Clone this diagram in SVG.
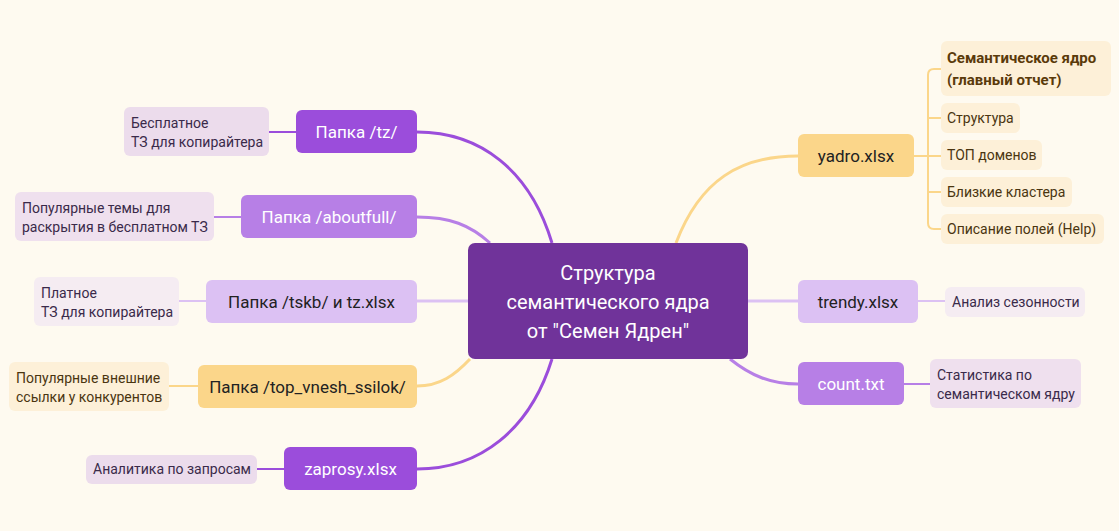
<svg xmlns="http://www.w3.org/2000/svg" width="1119" height="531" viewBox="0 0 1119 531">
<style>
text{font-family:Roboto,"Liberation Sans",sans-serif}
.b{font-size:17px}
.l{font-size:14px;fill:#3a2a4a}
.w{fill:#fff}
.k{fill:#222}
.c{fill:none;stroke-width:3}
.t{fill:none;stroke-width:2}
</style>
<rect width="1119" height="531" fill="#fefaf0"/>
<g id="connectors">
<path class="c" stroke="#9b4ddb" d="M552,243 C530,170 480,132 417,132"/>
<path class="c" stroke="#b77fe6" d="M490,243 C470,225 450,217 417,217"/>
<path class="c" stroke="#dcc1f3" d="M468,301 L417,301"/>
<path class="c" stroke="#fbd68a" d="M470,359 C455,375 440,386 417,386"/>
<path class="c" stroke="#9b4ddb" d="M552,359 C530,430 480,469 417,469"/>
<path class="c" stroke="#fbd68a" d="M676,243 C700,180 740,156 798,156"/>
<path class="c" stroke="#dcc1f3" d="M748,301 L798,301"/>
<path class="c" stroke="#b77fe6" d="M730,359 C750,375 770,384 798,384"/>
<path class="t" stroke="#9b4ddb" d="M296,132 H269"/>
<path class="t" stroke="#b77fe6" d="M241,217 H214"/>
<path class="t" stroke="#dcc1f3" d="M206,301 H179"/>
<path class="t" stroke="#fbd68a" d="M198,386 H169"/>
<path class="t" stroke="#9b4ddb" d="M284,469 H257"/>
<path class="t" stroke="#dcc1f3" d="M918,301 H945"/>
<path class="t" stroke="#b77fe6" d="M904,384 H930"/>
<path class="t" stroke="#fbd68a" d="M914,156 H941 M941,69 H934 Q928,69 928,75 V223 Q928,229 934,229 H941 M928,118 H941 M928,192 H941"/>
</g>
<g id="center"><rect x="468" y="243" width="280" height="116" rx="7" fill="#70339a"/>
<text class="w" font-size="20" text-anchor="middle"><tspan x="608" y="280">Структура</tspan><tspan x="608" y="309">семантического ядра</tspan><tspan x="608" y="338">от "Семен Ядрен"</tspan></text></g>
<g id="tz"><rect x="296" y="110" width="121" height="43" rx="6" fill="#9b4ddb"/><text class="b w" x="356.5" y="138" text-anchor="middle">Папка /tz/</text></g>
<g id="tz-l"><rect x="124" y="107" width="145" height="49" rx="6" fill="#ecdcec"/><text class="l"><tspan x="131" y="128">Бесплатное</tspan><tspan x="131" y="147">ТЗ для копирайтера</tspan></text></g>
<g id="about"><rect x="241" y="195" width="176" height="43" rx="6" fill="#b77fe6"/><text class="b w" x="329" y="223" text-anchor="middle">Папка /aboutfull/</text></g>
<g id="about-l"><rect x="15" y="192" width="199" height="49" rx="6" fill="#efe0ee"/><text class="l"><tspan x="22" y="213">Популярные темы для</tspan><tspan x="22" y="232">раскрытия в бесплатном ТЗ</tspan></text></g>
<g id="tskb"><rect x="206" y="280" width="211" height="43" rx="6" fill="#dcc1f3"/><text class="b k" x="311.5" y="308" text-anchor="middle">Папка /tskb/ и tz.xlsx</text></g>
<g id="tskb-l"><rect x="34" y="277" width="145" height="49" rx="6" fill="#f5ecf2"/><text class="l"><tspan x="41" y="298">Платное</tspan><tspan x="41" y="317">ТЗ для копирайтера</tspan></text></g>
<g id="top"><rect x="198" y="365" width="219" height="43" rx="6" fill="#fbd68a"/><text class="b k" x="307.5" y="393" text-anchor="middle">Папка /top_vnesh_ssilok/</text></g>
<g id="top-l"><rect x="9" y="362" width="160" height="49" rx="6" fill="#fdf0d8"/><text class="l" style="fill:#4a3510"><tspan x="16" y="383">Популярные внешние</tspan><tspan x="16" y="402">ссылки у конкурентов</tspan></text></g>
<g id="zap"><rect x="284" y="447" width="133" height="43" rx="6" fill="#9b4ddb"/><text class="b w" x="350.5" y="475" text-anchor="middle">zaprosy.xlsx</text></g>
<g id="zap-l"><rect x="86" y="455" width="171" height="29" rx="6" fill="#ecdcec"/><text class="l" x="93" y="474">Аналитика по запросам</text></g>
<g id="yadro"><rect x="798" y="134" width="116" height="43" rx="6" fill="#fbd68a"/><text class="b k" x="856" y="162" text-anchor="middle">yadro.xlsx</text></g>
<g id="y1"><rect x="941" y="41" width="170" height="55" rx="6" fill="#fdf0d8"/><text font-size="15" font-weight="bold" fill="#5a3a0a"><tspan x="947" y="63">Семантическое ядро</tspan><tspan x="947" y="85">(главный отчет)</tspan></text></g>
<g id="y2"><rect x="941" y="103" width="79" height="30" rx="6" fill="#fdf0d8"/><text class="l" style="fill:#4a3510" x="947" y="123">Структура</text></g>
<g id="y3"><rect x="941" y="140" width="101" height="30" rx="6" fill="#fdf0d8"/><text class="l" style="fill:#4a3510" x="947" y="160">ТОП доменов</text></g>
<g id="y4"><rect x="941" y="177" width="131" height="30" rx="6" fill="#fdf0d8"/><text class="l" style="fill:#4a3510" x="947" y="197">Близкие кластера</text></g>
<g id="y5"><rect x="941" y="214" width="163" height="30" rx="6" fill="#fdf0d8"/><text class="l" style="fill:#4a3510" x="947" y="234">Описание полей (Help)</text></g>
<g id="trendy"><rect x="798" y="280" width="120" height="43" rx="6" fill="#dcc1f3"/><text class="b k" x="858" y="308" text-anchor="middle">trendy.xlsx</text></g>
<g id="trendy-l"><rect x="945" y="287" width="140" height="30" rx="6" fill="#f5ecf2"/><text class="l" x="952" y="307">Анализ сезонности</text></g>
<g id="count"><rect x="798" y="362" width="106" height="43" rx="6" fill="#b77fe6"/><text class="b w" x="851" y="390" text-anchor="middle">count.txt</text></g>
<g id="count-l"><rect x="930" y="359" width="151" height="49" rx="6" fill="#efe0ee"/><text class="l"><tspan x="937" y="380">Статистика по</tspan><tspan x="937" y="399">семантическом ядру</tspan></text></g>
</svg>
